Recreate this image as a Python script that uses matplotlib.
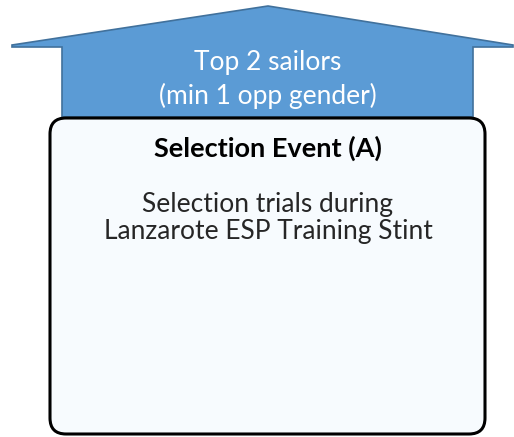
import matplotlib

matplotlib.use("Agg")
import matplotlib.pyplot as plt
from matplotlib.patches import FancyBboxPatch, Polygon

# diagram content
arrow_lines = ["Top 2 sailors", "(min 1 opp gender)"]
box_title = "Selection Event (A)"
box_lines = ["Selection trials during", "Lanzarote ESP Training Stint"]

W, H = 514, 437
fig = plt.figure(figsize=(W / 100, H / 100), dpi=100)
ax = fig.add_axes([0, 0, 1, 1])
ax.set_xlim(0, W)
ax.set_ylim(H, 0)
ax.axis("off")

font = ["Lato", "DejaVu Sans"]

# up arrow (pixel coords, y down)
arrow = Polygon(
    [(12, 45), (268, 6), (513, 45), (513, 47), (473, 47), (473, 117),
     (62, 117), (62, 47), (12, 47)],
    closed=True, facecolor="#5b9bd5", edgecolor="#41719c", linewidth=1.2,
)
ax.add_patch(arrow)

box = FancyBboxPatch(
    (50, 118), 435, 316,
    boxstyle="round,pad=0,rounding_size=16",
    facecolor="#f7fbfe", edgecolor="black", linewidth=2.2,
)
ax.add_patch(box)

ax.text(268, 70, arrow_lines[0], ha="center", va="baseline", color="white",
        fontsize=19, family=font)
ax.text(268, 104, arrow_lines[1], ha="center", va="baseline", color="white",
        fontsize=19, family=font)

ax.text(268, 157, box_title, ha="center", va="baseline", color="black",
        fontsize=19.5, fontweight="bold", family=font)
ax.text(268, 212, box_lines[0], ha="center", va="baseline", color="#262626",
        fontsize=19, family=font)
ax.text(268, 239, box_lines[1], ha="center", va="baseline", color="#262626",
        fontsize=19, family=font)

fig.savefig("out.png", dpi=100)
